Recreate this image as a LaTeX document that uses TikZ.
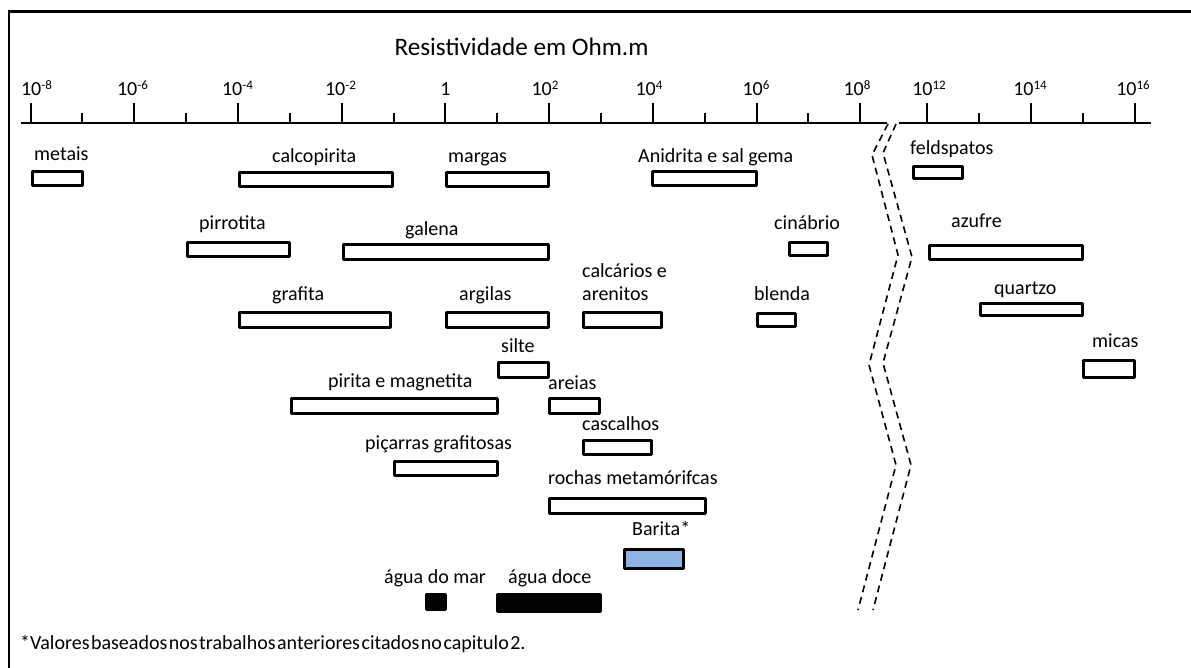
\documentclass[tikz,border=0pt]{standalone}
\usepackage{fontspec}
\setmainfont{Carlito}
\begin{document}
\begin{tikzpicture}[x=1pt,y=-1pt,
  bar/.style={draw=black,line width=3pt,fill=white,line join=round},
  solid bar/.style={bar,fill=black},
  lbl/.style={font=\fontsize{20}{24}\selectfont,inner sep=0pt,anchor=mid west},
  ticklbl/.style={font=\fontsize{20}{24}\selectfont,inner sep=0pt,anchor=base},
  axisline/.style={line width=2pt},
  breakline/.style={line width=1.6pt,dash pattern=on 7pt off 5pt}]
\useasboundingbox (0,0) rectangle (1191,668);

% frame (left and top edges)
\draw[line width=2.8pt] (9,672) -- (9,11.7) -- (1195,11.7);

% title
\node[font=\fontsize{25.2}{30}\selectfont,inner sep=0pt] (title) at (521.5,47) {Resistividade em Ohm.m};

% logarithmic axis, left part 10^-8 ... 10^8
\draw[axisline] (21,123) -- (886.5,123);
\foreach \e in {-8,...,8}{
  \pgfmathsetmacro{\xx}{30.6+51.85*(\e+8)}
  \pgfmathparse{int(mod(\e+8,2))}
  \ifnum\pgfmathresult=0
    \draw[axisline] (\xx,123) -- (\xx,103.5);
  \else
    \draw[axisline] (\xx,123) -- (\xx,113);
  \fi
}
% right part 10^12 ... 10^16
\draw[axisline] (899,123) -- (1151,123);
\foreach \e in {12,...,16}{
  \pgfmathsetmacro{\xx}{927.3+52*(\e-12)}
  \pgfmathparse{int(mod(\e,2))}
  \ifnum\pgfmathresult=0
    \draw[axisline] (\xx,123) -- (\xx,103.5);
  \else
    \draw[axisline] (\xx,123) -- (\xx,113);
  \fi
}

\newcommand{\pw}[1]{10\raisebox{6.5pt}{\fontsize{13}{13}\selectfont #1}}
\node[ticklbl] (t-8)  at (36.5,96)  {\pw{-8}};
\node[ticklbl] (t-6)  at (132.5,96) {\pw{-6}};
\node[ticklbl] (t-4)  at (237.5,96) {\pw{-4}};
\node[ticklbl] (t-2)  at (340.5,96) {\pw{-2}};
\node[ticklbl] (t0)   at (445.5,96) {1};
\node[ticklbl] (t2)   at (545,96)   {\pw{2}};
\node[ticklbl] (t4)   at (649,96)   {\pw{4}};
\node[ticklbl] (t6)   at (756,96)   {\pw{6}};
\node[ticklbl] (t8)   at (857,96)   {\pw{8}};
\node[ticklbl] (t12)  at (929,96)   {\pw{12}};
\node[ticklbl] (t14)  at (1030,96)  {\pw{14}};
\node[ticklbl] (t16)  at (1133,96)  {\pw{16}};

% axis break
\draw[breakline] (888,124) -- (872,155) -- (898,255) -- (869,365) -- (896,465) -- (858,610);
\draw[breakline] (896,124) -- (883,153) -- (912,257) -- (883,363) -- (911,465) -- (873,610);

% resistivity ranges
\draw[bar] (32.5,171.5) rectangle (82.5,185.5);
\node[lbl] (metais) at (34,158) {metais};
\draw[bar] (239.5,172.5) rectangle (392.5,186.5);
\node[lbl] (calcopirita) at (272,160) {calcopirita};
\draw[bar] (446.5,172.5) rectangle (548.5,186.5);
\node[lbl] (margas) at (448,160) {margas};
\draw[bar] (652.5,171.5) rectangle (756.5,185.5);
\node[lbl] (anidrita) at (638,160) {Anidrita e sal gema};
\draw[bar] (913.5,166.5) rectangle (962.5,178.5);
\node[lbl] (feldspatos) at (910,152) {feldspatos};

\draw[bar] (187.5,242.5) rectangle (289.5,256.5);
\node[lbl] (pirrotita) at (199,227) {pirrotita};
\draw[bar] (343.5,244.5) rectangle (548.5,259.5);
\node[lbl] (galena) at (405,233) {galena};
\draw[bar] (789.5,242.5) rectangle (827.5,255.5);
\node[lbl] (cinabrio) at (774,227) {cinábrio};
\draw[bar] (929.5,245.5) rectangle (1082.5,259.5);
\node[lbl] (azufre) at (951,225) {azufre};

\draw[bar] (583.5,312.5) rectangle (661.5,327.5);
\node[lbl] (calcarios) at (582,275) {calcários e};
\node[lbl] (arenitos) at (582,298) {arenitos};
\draw[bar] (239.5,312.5) rectangle (390.5,327.5);
\node[lbl] (grafita) at (272,298) {grafita};
\draw[bar] (446.5,312.5) rectangle (548.5,327.5);
\node[lbl] (argilas) at (459,298) {argilas};
\draw[bar] (757.5,313.5) rectangle (795.5,326.5);
\node[lbl] (blenda) at (754,298) {blenda};
\draw[bar] (980.5,303.5) rectangle (1082.5,315.5);
\node[lbl] (quartzo) at (994,292) {quartzo};

\draw[bar] (498.5,362.5) rectangle (548.5,377.5);
\node[lbl] (silte) at (501,350) {silte};
\draw[bar] (1083.5,360.5) rectangle (1134.5,377.5);
\node[lbl] (micas) at (1092,345) {micas};
\draw[bar] (291.5,398.5) rectangle (497.5,413.5);
\node[lbl] (pirita) at (328,385) {pirita e magnetita};
\draw[bar] (549.5,398.5) rectangle (599.5,413.5);
\node[lbl] (areias) at (548,387) {areias};
\draw[bar] (583.5,440.5) rectangle (651.5,454.5);
\node[lbl] (cascalhos) at (582,428) {cascalhos};
\draw[bar] (394.5,461.5) rectangle (497.5,475.5);
\node[lbl] (picarras) at (365,447) {piçarras grafitosas};
\draw[bar] (549.5,498.5) rectangle (705.5,513.5);
\node[lbl] (rochas) at (548,482) {rochas metamórifcas};

\draw[bar,fill={rgb,255:red,141;green,180;blue,226}] (624.5,549.5) rectangle (683.5,568.5);
\node[lbl] (barita) at (632,533) {Barita*};
\draw[solid bar] (426.5,594.5) rectangle (445.5,609.5);
\node[lbl] (aguamar) at (384,581) {água do mar};
\draw[solid bar] (497.5,594.5) rectangle (600.5,611.5);
\node[lbl] (aguadoce) at (508,581) {água doce};

% footnote
\node[lbl] (nota) at (20,647) {\spaceskip=1.5pt\relax *Valores baseados nos trabalhos anteriores citados no capitulo 2.};
\end{tikzpicture}
\end{document}
